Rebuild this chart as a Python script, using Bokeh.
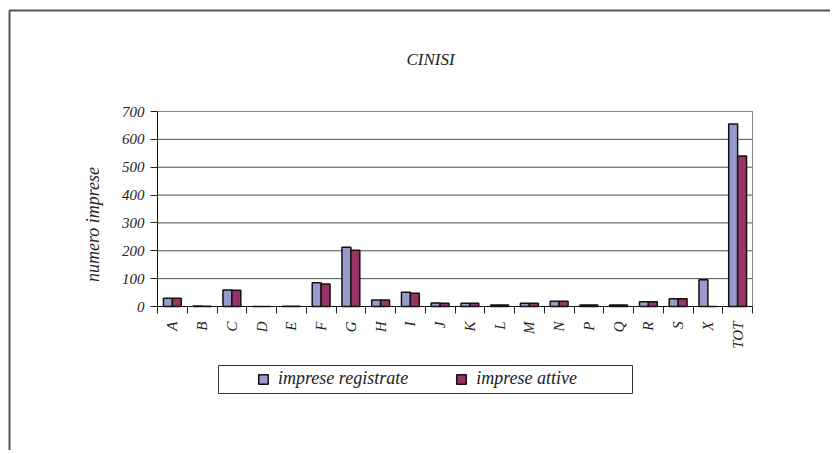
import numpy as np
from bokeh.plotting import figure
from bokeh.models import (ColumnDataSource, FixedTicker, Range1d, Label, Legend,
                          LegendItem, BoxAnnotation)
from bokeh.transform import dodge
from bokeh.embed import file_html
from bokeh.resources import INLINE

categories = ["A", "B", "C", "D", "E", "F", "G", "H", "I", "J", "K", "L",
              "M", "N", "P", "Q", "R", "S", "X", "TOT"]
registrate = [30, 2, 59, 0, 1, 85, 213, 23, 51, 13, 12, 5, 12, 19, 5, 5, 17, 28, 96, 655]
attive = [30, 1, 58, 0, 1, 81, 202, 23, 48, 12, 12, 5, 12, 19, 5, 5, 17, 28, 0, 540]
y_ticks = [0, 100, 200, 300, 400, 500, 600, 700]
title_text = "CINISI"
y_label = "numero imprese"
series_names = ["imprese registrate", "imprese attive"]

n = len(categories)
pos = list(range(n))
src = ColumnDataSource(dict(x=pos, reg=registrate, att=attive))

FONT = "Liberation Serif"

# canvas / layout geometry (pixels)
W, H = 830, 450
FL, FR, FT, FB = 157, 752, 111, 306   # plot-area edges on the canvas
YMAX = y_ticks[-1]
xs = (FR - FL) / n                     # px per category
ys = (FB - FT) / YMAX                  # px per unit
x0 = -0.5 - FL / xs
x1 = x0 + W / xs
y0 = -(H - FB) / ys
y1 = y0 + H / ys

p = figure(width=W, height=H, output_backend="svg", toolbar_location=None,
           x_range=Range1d(x0, x1), y_range=Range1d(y0, y1),
           min_border=0, min_border_left=0, min_border_right=0,
           min_border_top=0, min_border_bottom=0)
p.background_fill_color = "white"
p.border_fill_color = "white"
p.outline_line_color = None
p.xgrid.visible = False
p.ygrid.visible = False

# horizontal grid lines
p.segment(x0=[-0.5] * len(y_ticks), x1=[n - 0.5] * len(y_ticks), y0=y_ticks, y1=y_ticks,
          line_color="#4d4d4d", line_width=1, level="underlay")
# plot-area outline
p.add_layout(BoxAnnotation(left=-0.5, right=n - 0.5, bottom=0, top=YMAX,
                           fill_alpha=0, line_color="#8a8a8a", line_alpha=1,
                           line_width=1, level="underlay"))

c1, c2 = "#9999CC", "#993366"
r1 = p.vbar(x=dodge("x", -0.15, range=p.x_range), top="reg", width=0.3, source=src,
            fill_color=c1, line_color="#111111", line_width=1.5)
r2 = p.vbar(x=dodge("x", 0.15, range=p.x_range), top="att", width=0.3, source=src,
            fill_color=c2, line_color="#111111", line_width=1.5)

# x axis: labels at centres, small ticks between categories
p.xaxis.fixed_location = 0
p.xaxis.bounds = (-0.5, n - 0.5)
p.xaxis.ticker = FixedTicker(ticks=pos, minor_ticks=[i - 0.5 for i in range(n + 1)])
p.xaxis.major_label_overrides = {i: c for i, c in enumerate(categories)}
p.xaxis.major_label_orientation = np.pi / 2
p.xaxis.major_tick_out = 0
p.xaxis.major_tick_in = 0
p.xaxis.minor_tick_out = 7
p.xaxis.minor_tick_in = 0
p.xaxis.minor_tick_line_color = "#222222"
p.xaxis.axis_line_color = "#111111"
p.xaxis.major_label_standoff = 8

p.yaxis.fixed_location = -0.5
p.yaxis.bounds = (0, YMAX)
p.yaxis.ticker = FixedTicker(ticks=y_ticks)
p.yaxis.major_tick_out = 7
p.yaxis.major_tick_in = 0
p.yaxis.minor_tick_out = 0
p.yaxis.minor_tick_in = 0
p.yaxis.axis_line_color = "#111111"
p.yaxis.major_tick_line_color = "#222222"
p.yaxis.major_label_standoff = 6

for ax in (p.xaxis[0], p.yaxis[0]):
    ax.major_label_text_font = FONT
    ax.major_label_text_font_style = "italic"
    ax.major_label_text_font_size = "15px"
    ax.major_label_text_color = "#222222"

# y-axis title (sits a little below the axis centre, as in the original)
p.add_layout(Label(x=92, y=H - 224, x_units="screen", y_units="screen", text=y_label,
                   angle=np.pi / 2, text_font=FONT, text_font_style="italic",
                   text_font_size="18px", text_color="#222222",
                   text_align="center", text_baseline="middle"))

# title
p.add_layout(Label(x=430, y=H - 59, x_units="screen", y_units="screen", text=title_text,
                   text_font=FONT, text_font_style="italic", text_font_size="17px",
                   text_color="#222222", text_align="center", text_baseline="middle"))

# outer border of the chart area
p.add_layout(BoxAnnotation(left=9, right=W + 50, top=H - 10, bottom=-50,
                           left_units="screen", right_units="screen",
                           top_units="screen", bottom_units="screen",
                           fill_alpha=0, line_color="#555555", line_alpha=1,
                           line_width=2))

# legend box
p.add_layout(BoxAnnotation(left=218, right=632, top=H - 365, bottom=H - 393,
                           left_units="screen", right_units="screen",
                           top_units="screen", bottom_units="screen",
                           fill_alpha=0, line_color="#333333", line_alpha=1,
                           line_width=1))

legend = Legend(items=[LegendItem(label=series_names[0], renderers=[r1]),
                       LegendItem(label=series_names[1], renderers=[r2])],
                location=(252, H - 394), orientation="horizontal",
                glyph_width=12, glyph_height=12, label_standoff=9, spacing=47,
                padding=5, border_line_alpha=0, background_fill_alpha=0,
                label_text_font=FONT, label_text_font_style="italic",
                label_text_font_size="18px", label_text_color="#222222")
p.add_layout(legend, "center")

open("out.html", "w").write(file_html(p, INLINE))
